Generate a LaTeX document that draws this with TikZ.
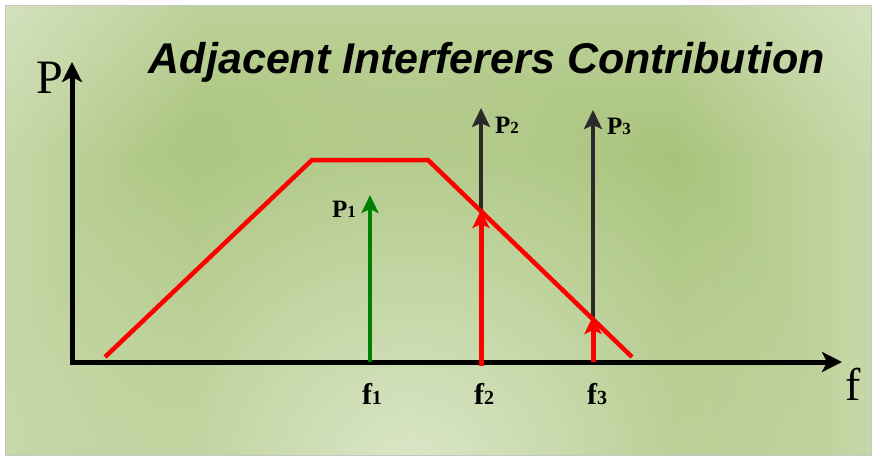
\documentclass[tikz,border=0pt]{standalone}
\usepackage{fontspec}
\setmainfont{Liberation Serif}
\newfontfamily\titlefont{Liberation Sans}
\usetikzlibrary{arrows.meta,calc,fadings}
\definecolor{bgbase}{HTML}{A8C37A}
\definecolor{darkarrow}{HTML}{2A2A2A}
\definecolor{sgreen}{HTML}{008000}
\tikzfading[name=glowfade,inner color=transparent!0,outer color=transparent!100]
\tikzfading[name=leftfade,left color=transparent!0,right color=transparent!100]
\tikzfading[name=rightfade,left color=transparent!100,right color=transparent!0]
\tikzfading[name=topfade,top color=transparent!0,bottom color=transparent!100]
\begin{document}
\begin{tikzpicture}[x=1pt,y=-1pt,
  axis/.style={line width=5pt,black,-{Stealth[length=20pt,width=20pt,inset=5pt]}},
  blackarr/.style={line width=4.5pt,darkarrow,-{Stealth[length=19pt,width=18pt,inset=4pt]}},
  redarr/.style={line width=5pt,red,-{Stealth[length=18pt,width=17pt,inset=4pt]}},
  greenarr/.style={line width=4.5pt,sgreen,-{Stealth[length=18pt,width=17pt,inset=4pt]}},
  curve/.style={line width=4.5pt,red,line join=miter},
  plabel/.style={font=\fontsize{25}{27}\selectfont\bfseries,inner sep=0pt},
  flabel/.style={font=\fontsize{30}{32}\selectfont\bfseries,inner sep=0pt}]
\useasboundingbox (0,0) rectangle (873,459);
% background
\fill[white] (0,0) rectangle (873,459);
\begin{scope}
\clip (5,5) rectangle (871,455);
\fill[bgbase] (5,5) rectangle (871,455);
\fill[white,opacity=0.35,path fading=topfade] (0,-60) rectangle (873,160);
\fill[white,opacity=0.5,path fading=leftfade] (-80,0) rectangle (200,459);
\fill[white,opacity=0.5,path fading=rightfade] (673,0) rectangle (953,459);
\fill[white,opacity=0.6,path fading=glowfade] (410,480) circle (420);
\end{scope}
\draw[gray!45,line width=1pt] (5,5) rectangle (871,455);
% coordinates
\coordinate (O) at (72,362);
\coordinate (Ytip) at (72,62);
\coordinate (Xtip) at (842,362);
\coordinate (T0) at (105,357);
\coordinate (T1) at (312,160);
\coordinate (T2) at (428,160);
\coordinate (T3) at (632,357);
\coordinate (F1) at (370,362);
\coordinate (F1top) at (370,195);
\coordinate (F2) at (481,366);
\coordinate (F2mid) at (481,210);
\coordinate (F2top) at (481,108);
\coordinate (F3) at (593,362);
\coordinate (F3mid) at (593,316);
\coordinate (F3top) at (593,110);
% black arrows
\draw[blackarr] (F2mid) -- (F2top);
\draw[blackarr] ($(F3)+(0,-40)$) -- (F3top);
% axes
\draw[axis] (O) -- (Ytip);
\draw[axis] ($(O)+(-2.5,0)$) -- (Xtip);
% trapezoid
\draw[curve] (T0) -- (T1) -- (T2) -- (T3);
% coloured arrows
\draw[greenarr] (F1) -- (F1top);
\draw[redarr] (F2) -- (F2mid);
\draw[redarr] (F3) -- (F3mid);
% labels
\node[font=\titlefont\fontsize{43}{46}\selectfont\bfseries\itshape] (title) at (487,62) {Adjacent Interferers Contribution};
\node[font=\fontsize{48}{50}\selectfont,inner sep=0pt] (Plab) at (50,78) {P};
\node[font=\fontsize{46}{48}\selectfont,inner sep=0pt] (flab) at (853,384) {f};
\node[plabel,anchor=east] (P1) at (356,209) {P\fontsize{17}{18}\selectfont 1};
\node[plabel,anchor=west] (P2) at (495,125) {P\fontsize{17}{18}\selectfont 2};
\node[plabel,anchor=west] (P3) at (607,126) {P\fontsize{17}{18}\selectfont 3};
\node[flabel] (f1) at (372,394) {f\fontsize{20}{22}\selectfont 1};
\node[flabel] (f2) at (484,394) {f\fontsize{20}{22}\selectfont 2};
\node[flabel] (f3) at (597,394) {f\fontsize{20}{22}\selectfont 3};
\end{tikzpicture}
\end{document}
